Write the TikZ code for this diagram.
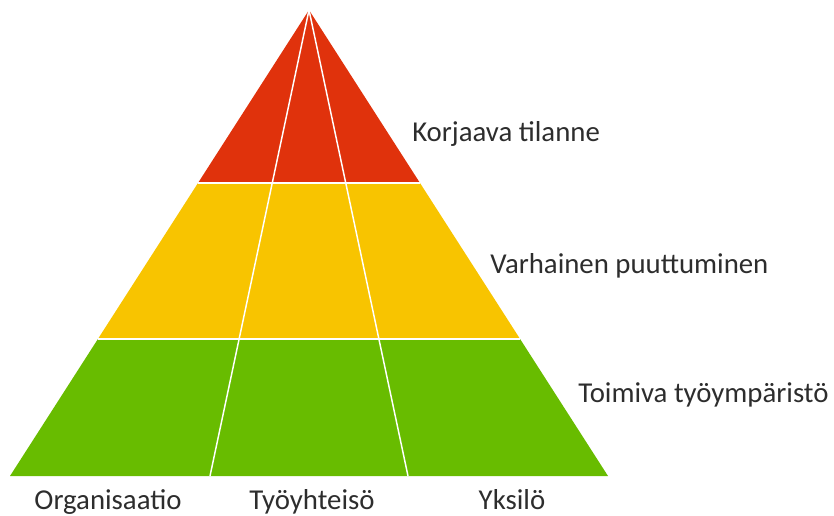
\documentclass[tikz,border=0pt]{standalone}
\usepackage{fontspec}
\setmainfont{Carlito}
\usepackage{tikz}
\usetikzlibrary{positioning, calc}
\definecolor{pyrred}{RGB}{224,50,12}
\definecolor{pyryellow}{RGB}{248,196,0}
\definecolor{pyrgreen}{RGB}{104,188,0}
\definecolor{labelgray}{RGB}{45,45,45}
\tikzset{
  band/.style={draw=none},
  divider/.style={draw=white, line width=1.1pt},
  edge/.style={draw=white, line width=1.2pt},
  levellabel/.style={anchor=base west, font=\fontsize{21.6}{24}\selectfont, text=labelgray, inner sep=0pt},
  baselabel/.style={anchor=base, font=\fontsize{21.6}{24}\selectfont, text=labelgray, inner sep=0pt}
}

\begin{document}
\begin{tikzpicture}[x={(0.75pt,0)}, y={(0,-0.75pt)}]
  \useasboundingbox (0,0) rectangle (834,515);

  % Corners of the pyramid
  \coordinate (apex) at (309,10);
  \coordinate (bl) at (10,476);
  \coordinate (br) at (608,476);

  % Band boundaries
  \coordinate (l1) at ($(apex)!0.3712!(bl)$);
  \coordinate (r1) at ($(apex)!0.3712!(br)$);
  \coordinate (l2) at ($(apex)!0.7060!(bl)$);
  \coordinate (r2) at ($(apex)!0.7060!(br)$);

  % Bands
  \fill[pyrred] (apex) -- (l1) -- (r1) -- cycle;
  \fill[pyryellow] (l1) -- (l2) -- (r2) -- (r1) -- cycle;
  \fill[pyrgreen] (l2) -- (bl) -- (br) -- (r2) -- cycle;

  % Dividers between the columns
  \coordinate (d1) at (210,476);
  \coordinate (d2) at (408,476);
  \draw[divider] (apex) -- (d1);
  \draw[divider] (apex) -- (d2);
  \draw[edge] (l1) -- (r1);
  \draw[edge] (l2) -- (r2);

  % Level labels
  \node[levellabel] (korjaava) at (412,141) {Korjaava tilanne};
  \node[levellabel] (varhainen) at (490,273) {Varhainen puuttuminen};
  \node[levellabel] (toimiva) at (578,402) {Toimiva työympäristö};

  % Column labels
  \node[baselabel] (org) at (108,509) {Organisaatio};
  \node[baselabel] (yhteiso) at (312,509) {Työyhteisö};
  \node[baselabel] (yksilo) at (512,509) {Yksilö};
\end{tikzpicture}
\end{document}
